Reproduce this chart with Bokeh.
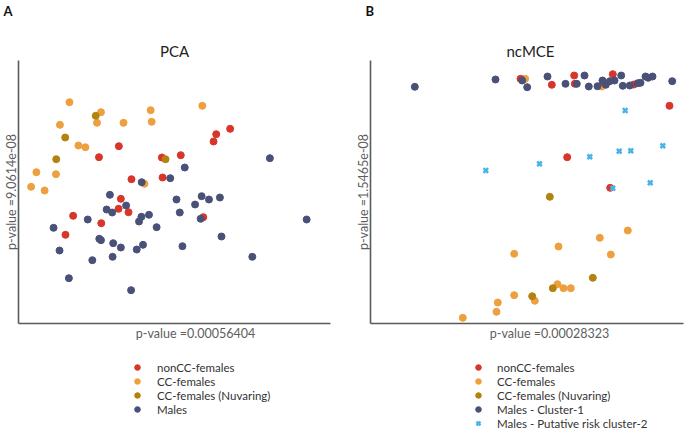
from bokeh.plotting import figure
from bokeh.layouts import row, column
from bokeh.models import Range1d, Label, Legend, LegendItem, FixedTicker
from bokeh.embed import file_html
from bokeh.resources import INLINE

# ---------------- data (arbitrary component units) -------------
# Panel A: PCA
pca_noncc_x = [213, 199, 196.3, 101, 81, 144.3, 163.3, 113.7, 145, 103, 100.7, 110.7, 55, 83.3, 47.3, 186]
pca_noncc_y = [194.7, 189.3, 182, 177.3, 166.3, 166, 168.3, 144.3, 146, 124.7, 114.7, 111.3, 107.7, 100.3, 88.7, 106.3]
pca_cc_x = [51.3, 83, 133, 185, 41.7, 79, 105.7, 134, 60.3, 67.3, 18, 37.7, 12.7, 26.3, 126.7]
pca_cc_y = [221.3, 211.3, 213.3, 217.7, 198.7, 200.7, 200.7, 201.7, 178, 176.3, 151.3, 149.3, 136.7, 133, 139.7]
pca_nuva_x = [77.7, 47, 38, 148]
pca_nuva_y = [207.7, 186, 164.3, 164.3]
pca_male_x = [253, 167.3, 152.7, 124, 92, 159, 184.3, 191.7, 202.7, 177.7, 108.3, 88.7, 94.3, 162.3,
              131.3, 123.7, 183.3, 290, 69.7, 121.3, 35.3, 139, 204.3, 81.3, 83, 95.3, 125.3, 103,
              165, 119, 41.3, 235.3, 94.7, 74.3, 50.7, 113.3]
pca_male_y = [165.3, 156, 145.3, 141.3, 128.7, 124, 127.3, 124, 126, 119, 118, 114, 111, 111,
              108.7, 106.7, 104.7, 104, 104, 102, 95.7, 96.3, 87, 84.7, 83.3, 80.3, 78.7, 76,
              77.3, 74, 73, 66.7, 66.7, 63.3, 45.3, 33.3]

# Panel B: ncMCE
mce_noncc_x = [150, 181.3, 203.7, 204.3, 242.3, 234, 263.3, 299, 196.7, 239.7]
mce_noncc_y = [244.7, 238.7, 248, 239.7, 249.3, 240.3, 239, 217.7, 166.3, 135.7]
mce_cc_x = [154.7, 231.3, 257.3, 229.3, 188, 143.7, 240.3, 187, 193, 200.3, 143.7, 164.3, 127.3, 126, 92.3]
mce_cc_y = [244.7, 237, 93, 85.7, 77, 69.7, 69, 39.3, 35.3, 35.3, 28.3, 22.7, 21, 11.7, 5.7]
mce_nuva_x = [179.3, 222.3, 182.3, 161.7]
mce_nuva_y = [126.7, 45.7, 35.3, 27.3]
mce_male1_x = [44.3, 125, 151.7, 156.7, 177, 195, 206.3, 214, 218.3, 227, 232, 235.3, 239.3, 244,
               250.7, 252.3, 259.3, 267.3, 270, 275, 277.7, 282, 301.7]
mce_male1_y = [236.7, 244, 243, 236.3, 247, 239.7, 239.7, 248, 237, 237.3, 243, 238.7, 242.3, 243,
               248, 237.7, 238, 240.3, 240.7, 247, 245.7, 247, 242.3]
mce_male2_x = [254.7, 115.3, 169, 219.3, 248.7, 260.3, 292.3, 279.7, 242.3]
mce_male2_y = [213, 153, 159.7, 166.7, 172.3, 172.7, 177.7, 140.7, 135.3]

labels_a = ["nonCC-females", "CC-females", "CC-females (Nuvaring)", "Males"]
labels_b = ["nonCC-females", "CC-females", "CC-females (Nuvaring)", "Males - Cluster-1",
            "Males - Putative risk cluster-2"]
titles = ["PCA", "ncMCE"]
panel_letters = ["A", "B"]
xlabels = ["p-value =0.00056404", "p-value =0.00028323"]
ylabels = ["p-value =9.0614e-08", "p-value =1.5465e-08"]

RED = "#d8352b"
ORANGE = "#eea03e"
GOLD = "#b3830f"
NAVY = "#4a5178"
BLUE = "#48b3ea"

FONT = "Lato"
AXIS_COLOR = "#5a5a5a"
TEXT_GRAY = "#5e5e5e"


def strip(width, height):
    s = figure(width=width, height=height, output_backend="svg", toolbar_location=None,
               x_range=Range1d(0, width), y_range=Range1d(0, height),
               x_axis_location=None, y_axis_location=None,
               min_border_left=0, min_border_right=0, min_border_top=0, min_border_bottom=0)
    s.outline_line_color = None
    s.grid.visible = False
    s.background_fill_color = "white"
    s.border_fill_color = "white"
    return s


def make_fig(width, border_left, border_right, x_end, ylab):
    p = figure(width=width, height=265, output_backend="svg", toolbar_location=None,
               x_range=Range1d(0, x_end), y_range=Range1d(0, 263),
               min_border_left=border_left, min_border_right=border_right,
               min_border_top=0, min_border_bottom=2)
    p.outline_line_color = None
    p.grid.visible = False
    p.background_fill_color = "white"
    p.border_fill_color = "white"
    for ax in (p.xaxis[0], p.yaxis[0]):
        ax.ticker = FixedTicker(ticks=[])
        ax.major_tick_line_color = None
        ax.minor_tick_line_color = None
        ax.major_tick_out = 0
        ax.minor_tick_out = 0
        ax.major_label_standoff = 0
        ax.major_label_text_font_size = "0px"
        ax.axis_line_color = AXIS_COLOR
        ax.axis_line_width = 1.6
    ya = p.yaxis[0]
    ya.axis_label = ylab
    ya.axis_label_standoff = 0
    ya.axis_label_text_font = FONT
    ya.axis_label_text_font_size = "12.5px"
    ya.axis_label_text_font_style = "normal"
    ya.axis_label_text_color = TEXT_GRAY
    return p


def dots(p, x, y, color, marker="circle", visible=True):
    if marker == "x":
        return p.scatter(x, y, size=6.5, marker="x", line_color=color, line_width=2.5,
                         visible=visible)
    return p.scatter(x, y, size=7, color=color, visible=visible)


# ---------------- Panel A ----------------
series_a = [(pca_noncc_x, pca_noncc_y, RED, "circle"),
            (pca_cc_x, pca_cc_y, ORANGE, "circle"),
            (pca_nuva_x, pca_nuva_y, GOLD, "circle"),
            (pca_male_x, pca_male_y, NAVY, "circle")]
pa = make_fig(342, 16, 12, 314, ylabels[0])
for x, y, c, m in series_a:
    dots(pa, x, y, c, m)

# ---------------- Panel B ----------------
series_b = [(mce_noncc_x, mce_noncc_y, RED, "circle"),
            (mce_cc_x, mce_cc_y, ORANGE, "circle"),
            (mce_nuva_x, mce_nuva_y, GOLD, "circle"),
            (mce_male1_x, mce_male1_y, NAVY, "circle"),
            (mce_male2_x, mce_male2_y, BLUE, "x")]
pb = make_fig(343, 28, 2, 313, ylabels[1])
for i in [1, 0, 2, 3, 4]:
    x, y, c, m = series_b[i]
    dots(pb, x, y, c, m)

# ---------------- top strip: panel letters and titles ----------------
top = strip(685, 60)
for lx, letter in zip([3, 365], panel_letters):
    top.add_layout(Label(x=lx, y=58, x_units="screen", y_units="screen", text=letter,
                         text_font=FONT, text_font_style="bold", text_font_size="13px",
                         text_color="#111111", text_align="left", text_baseline="top"))
for tx, t in zip([174, 530], titles):
    top.add_layout(Label(x=tx, y=10, x_units="screen", y_units="screen", text=t,
                         text_font=FONT, text_font_size="15px", text_color="#222222",
                         text_align="center", text_baseline="middle"))

# ---------------- bottom strip: x labels and legends ----------------
bot = strip(685, 104)
for cx, t in zip([195, 549], xlabels):
    bot.add_layout(Label(x=cx, y=96, x_units="screen", y_units="screen", text=t,
                         text_font=FONT, text_font_size="12.5px", text_color=TEXT_GRAY,
                         text_align="center", text_baseline="middle"))


def style_legend(leg):
    leg.border_line_color = None
    leg.background_fill_alpha = 0
    leg.inactive_fill_alpha = 0
    leg.padding = 0
    leg.margin = 0
    leg.spacing = 0
    leg.glyph_width = 14
    leg.glyph_height = 14
    leg.label_height = 14
    leg.label_text_font = FONT
    leg.label_text_font_size = "11.5px"
    leg.label_text_color = "#333333"


# legend proxies: the same series, hidden in the strip, only used for legend glyphs
ra = [dots(bot, x, y, c, m, visible=False) for x, y, c, m in series_a]
leg_a = Legend(items=[LegendItem(label=l, renderers=[r]) for l, r in zip(labels_a, ra)],
               location=(130, 13))
style_legend(leg_a)
leg_a.label_standoff = 13
bot.add_layout(leg_a)

rb = [dots(bot, x, y, c, m, visible=False) for x, y, c, m in series_b]
leg_b = Legend(items=[LegendItem(label=l, renderers=[r]) for l, r in zip(labels_b, rb)],
               location=(471, -1))
style_legend(leg_b)
leg_b.label_standoff = 12
bot.add_layout(leg_b)

layout = column(top, row(pa, pb, spacing=0), bot, spacing=0)
open("out.html", "w").write(file_html(layout, INLINE))
